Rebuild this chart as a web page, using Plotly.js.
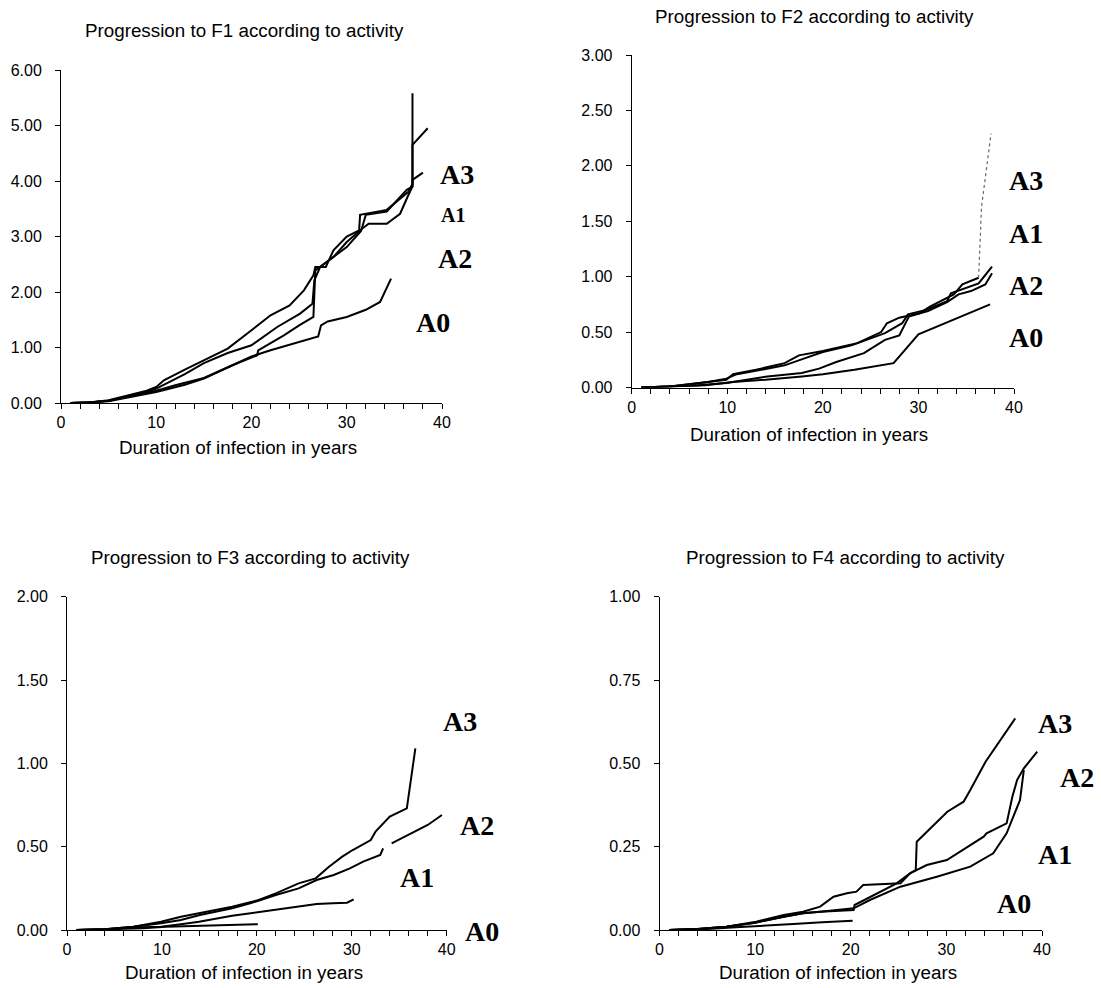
<!DOCTYPE html>
<html>
<head>
<meta charset="utf-8">
<script src="https://cdn.plot.ly/plotly-3.0.1.min.js"></script>
<style>html,body{margin:0;padding:0;background:#fff;}#chart{width:1101px;height:988px;}</style>
</head>
<body>
<div id="chart"></div>
<script>
// ---------- Data ----------
const seriesNames = ["A0", "A1", "A2", "A3"];
const xTickVals = [0, 10, 20, 30, 40];

// F1 panel
const f1_a3_x = [1, 3, 5, 7, 9, 10, 10.8, 13, 15, 17.5, 20, 22, 24, 25.5, 26.5, 26.7, 27.8, 28.6, 30, 31.3, 31.4, 34.2, 36.5, 36.9, 36.9];
const f1_a3_y = [0, 0.01, 0.05, 0.13, 0.22, 0.29, 0.41, 0.6, 0.77, 0.98, 1.31, 1.58, 1.76, 2.03, 2.3, 2.45, 2.45, 2.75, 3.0, 3.11, 3.39, 3.48, 3.81, 3.95, 5.58];
const f1_a1_x = [1, 3, 5, 7, 9, 10, 11, 13, 15, 17.5, 20, 22.7, 25.1, 26.4, 26.6, 27.2, 28.6, 30, 31.6, 32.3, 34.2, 35.6, 36.4, 36.9, 36.9, 38.5];
const f1_a1_y = [0, 0.01, 0.04, 0.12, 0.2, 0.26, 0.35, 0.52, 0.72, 0.9, 1.04, 1.37, 1.61, 1.79, 2.21, 2.45, 2.63, 2.9, 3.14, 3.23, 3.23, 3.41, 3.72, 3.9, 4.65, 4.95];
const f1_a2_x = [1, 3, 5, 7, 9, 10, 12, 15, 18, 20.6, 20.7, 23.4, 25, 26.5, 26.7, 28.1, 30, 31.5, 32, 34.2, 36.3, 36.9, 36.9, 38];
const f1_a2_y = [0, 0.01, 0.04, 0.11, 0.19, 0.22, 0.32, 0.45, 0.68, 0.86, 0.95, 1.22, 1.4, 1.55, 2.39, 2.57, 2.81, 3.1, 3.39, 3.45, 3.84, 3.9, 4.02, 4.15];
const f1_a0_x = [1, 3, 5, 7, 10, 13, 15, 18, 20, 22, 24, 26, 27, 27.3, 28, 30, 32, 33.5, 34.65];
const f1_a0_y = [0, 0.01, 0.03, 0.1, 0.2, 0.33, 0.44, 0.68, 0.84, 0.95, 1.05, 1.15, 1.2, 1.4, 1.47, 1.55, 1.68, 1.82, 2.24];

// F2 panel
const f2_a3_x = [1, 4, 6, 8, 9.9, 10.6, 13, 16, 17.5, 20, 23.6, 26.1, 26.7, 28, 30.1, 31.2, 33.7, 34.6, 36.3, 36.6, 37.6];
const f2_a3_y = [0, 0.01, 0.03, 0.05, 0.07, 0.12, 0.16, 0.22, 0.29, 0.33, 0.4, 0.5, 0.58, 0.63, 0.67, 0.73, 0.84, 0.93, 0.99, 1.63, 2.29];
const f2_a1_x = [1, 4, 6, 8, 9.9, 11, 13, 16, 18, 20, 23, 26.5, 28.3, 28.9, 30.8, 33, 33.4, 36.3, 37.7];
const f2_a1_y = [0, 0.01, 0.03, 0.05, 0.08, 0.12, 0.15, 0.2, 0.26, 0.32, 0.38, 0.49, 0.58, 0.66, 0.7, 0.78, 0.85, 0.94, 1.09];
const f2_a2_x = [1, 4, 7, 9.9, 12, 14.2, 17.8, 19.6, 21.4, 24.3, 26.5, 28, 29, 31, 33, 34.2, 35.5, 37, 37.7];
const f2_a2_y = [0, 0.01, 0.02, 0.04, 0.07, 0.1, 0.13, 0.17, 0.23, 0.31, 0.43, 0.47, 0.64, 0.69, 0.77, 0.84, 0.87, 0.93, 1.03];
const f2_a0_x = [1, 4, 7.7, 10.6, 14, 17.8, 20, 23.3, 27.4, 28.1, 30, 37.5];
const f2_a0_y = [0, 0.01, 0.02, 0.05, 0.07, 0.1, 0.12, 0.16, 0.22, 0.29, 0.48, 0.75];

// F3 panel
const f3_a3_x = [1, 4, 7, 9.9, 12, 13.9, 17.4, 20.2, 22, 24.4, 26.2, 27.6, 29, 30.1, 32, 32.5, 34, 35.8, 36.1, 36.7];
const f3_a3_y = [0, 0.005, 0.02, 0.05, 0.08, 0.1, 0.14, 0.18, 0.22, 0.28, 0.31, 0.38, 0.44, 0.48, 0.54, 0.59, 0.68, 0.73, 0.86, 1.09];
const f3_a2_x = [1, 4, 7, 9.9, 12, 14, 17.4, 19.3, 22, 24.4, 26.3, 28.1, 29.8, 31.2, 33, 33.3, null, 34.2, 36, 38, 39.5];
const f3_a2_y = [0, 0.005, 0.02, 0.04, 0.06, 0.09, 0.13, 0.16, 0.21, 0.25, 0.3, 0.33, 0.37, 0.41, 0.45, 0.49, null, 0.52, 0.57, 0.63, 0.69];
const f3_a1_x = [1, 4, 7, 9.9, 12, 13.9, 17.4, 19.3, 22.8, 24.4, 26.3, 28, 29.5, 30.2];
const f3_a1_y = [0, 0.005, 0.015, 0.02, 0.035, 0.05, 0.085, 0.1, 0.13, 0.14, 0.156, 0.16, 0.164, 0.184];
const f3_a0_x = [1, 5, 8, 10.4, 14, 17, 20.1];
const f3_a0_y = [0, 0.005, 0.01, 0.02, 0.025, 0.03, 0.035];

// F4 panel
const f4_a3_x = [1, 4, 7, 10.1, 13, 15, 16.8, 18.2, 19.6, 20.6, 21.3, 24.8, 25.2, 26.2, 26.8, 26.9, 28, 29.4, 30.1, 31.8, 32.5, 34.1, 37.2];
const f4_a3_y = [0, 0.003, 0.01, 0.025, 0.045, 0.055, 0.07, 0.1, 0.11, 0.115, 0.135, 0.14, 0.14, 0.17, 0.18, 0.265, 0.295, 0.335, 0.355, 0.385, 0.42, 0.505, 0.635];
const f4_a2_x = [1, 4, 7, 10, 13, 15, 16.8, 20.3, 20.4, 23.4, 24.8, 26.2, 27.95, 30.05, 33.9, 34.2, 36.3, 36.9, 37.4, 38.1, 39.5];
const f4_a2_y = [0, 0.003, 0.01, 0.022, 0.04, 0.05, 0.055, 0.06, 0.075, 0.12, 0.14, 0.17, 0.195, 0.21, 0.28, 0.29, 0.32, 0.40, 0.45, 0.485, 0.535];
const f4_a1_x = [1, 4, 7, 10, 13, 15, 16.8, 20.3, 22, 25.2, 29, 32.5, 34.9, 36.3, 37, 37.7, 38.1];
const f4_a1_y = [0, 0.003, 0.01, 0.022, 0.04, 0.05, 0.055, 0.065, 0.09, 0.13, 0.16, 0.19, 0.23, 0.29, 0.34, 0.39, 0.48];
const f4_a0_x = [1, 5, 8, 10, 14, 17, 20.2];
const f4_a0_y = [0, 0.003, 0.008, 0.012, 0.018, 0.023, 0.028];

const panelTitles = [
  "Progression to F1 according to activity",
  "Progression to F2 according to activity",
  "Progression to F3 according to activity",
  "Progression to F4 according to activity"
];
const xAxisTitle = "Duration of infection in years";
const yMax = [6, 3, 2, 1];
const yStep = [1, 0.5, 0.5, 0.25];

// ---------- Layout geometry (pixels) ----------
const W = 1101, H = 988;
const px = v => v / W;
const py = v => 1 - v / H;

const panels = [
  {x0: 61,    x1: 442,  yTop: 70,    yBot: 403,   title: [244.5, 30],  xt: [237.5, 447],
   labels: [["A3", 457, 174, 28], ["A1", 453, 215, 20], ["A2", 455, 258, 28], ["A0", 433, 323, 28]]},
  {x0: 631.7, x1: 1014, yTop: 55,    yBot: 387.5, title: [814.5, 17],  xt: [809, 434],
   labels: [["A3", 1026, 181, 28], ["A1", 1026, 233, 28], ["A2", 1026, 285, 28], ["A0", 1026, 337, 28]]},
  {x0: 67,    x1: 446.7, yTop: 596.7, yBot: 930,  title: [250.5, 557], xt: [243.5, 972],
   labels: [["A3", 460, 721, 28], ["A2", 477, 825, 28], ["A1", 417, 877, 28], ["A0", 482, 931, 28]]},
  {x0: 659.5, x1: 1042, yTop: 596.7, yBot: 930,  title: [845.5, 557], xt: [838, 972],
   labels: [["A3", 1055, 723, 28], ["A2", 1077, 777, 28], ["A1", 1055, 854, 28], ["A0", 1014, 903, 28]]}
];

const panelData = [
  {A0: [f1_a0_x, f1_a0_y], A1: [f1_a1_x, f1_a1_y], A2: [f1_a2_x, f1_a2_y], A3: [f1_a3_x, f1_a3_y]},
  {A0: [f2_a0_x, f2_a0_y], A1: [f2_a1_x, f2_a1_y], A2: [f2_a2_x, f2_a2_y], A3: [f2_a3_x, f2_a3_y]},
  {A0: [f3_a0_x, f3_a0_y], A1: [f3_a1_x, f3_a1_y], A2: [f3_a2_x, f3_a2_y], A3: [f3_a3_x, f3_a3_y]},
  {A0: [f4_a0_x, f4_a0_y], A1: [f4_a1_x, f4_a1_y], A2: [f4_a2_x, f4_a2_y], A3: [f4_a3_x, f4_a3_y]}
];

const traces = [];
const layout = {
  width: W, height: H,
  margin: {l: 0, r: 0, t: 0, b: 0},
  paper_bgcolor: "#fff", plot_bgcolor: "#fff",
  showlegend: false,
  annotations: []
};

const sans = "Liberation Sans, Arial, Helvetica, sans-serif";
const serif = "Liberation Serif, Times New Roman, serif";

panels.forEach((p, i) => {
  const n = i === 0 ? "" : String(i + 1);
  const xa = "xaxis" + n, ya = "yaxis" + n;
  const xr = "x" + n, yr = "y" + n;

  layout[xa] = {
    domain: [px(p.x0), px(p.x1)], anchor: yr, range: [0, 40],
    tickmode: "array", tickvals: xTickVals,
    showline: true, linecolor: "#000", linewidth: 1,
    ticks: "outside", ticklen: 5, tickwidth: 1, tickcolor: "#000",
    minor: {dtick: 2, tick0: 0, ticks: "outside", ticklen: 5, tickwidth: 1, tickcolor: "#000", showgrid: false},
    showgrid: false, zeroline: false,
    tickfont: {family: sans, size: 16, color: "#000"}
  };
  layout[ya] = {
    domain: [py(p.yBot), py(p.yTop)], anchor: xr, range: [0, yMax[i]],
    dtick: yStep[i], tick0: 0, tickformat: ".2f",
    showline: true, linecolor: "#000", linewidth: 1,
    ticks: "outside", ticklen: 5, tickwidth: 1, tickcolor: "#000",
    ticklabelstandoff: 10,
    showgrid: false, zeroline: false,
    tickfont: {family: sans, size: 16, color: "#000"}
  };

  seriesNames.forEach(s => {
    const [xs, ys] = panelData[i][s];
    if (i === 1 && s === "A3") {
      traces.push({x: xs.slice(0, xs.length - 2), y: ys.slice(0, ys.length - 2), xaxis: xr, yaxis: yr,
        mode: "lines", name: s, line: {color: "#000", width: 2}, hoverinfo: "x+y+name"});
      traces.push({x: xs.slice(xs.length - 3), y: ys.slice(ys.length - 3), xaxis: xr, yaxis: yr,
        mode: "lines", name: s, line: {color: "#666", width: 1.2, dash: "dot"}, hoverinfo: "x+y+name"});
    } else {
      traces.push({x: xs, y: ys, xaxis: xr, yaxis: yr, mode: "lines", name: s,
        connectgaps: false, line: {color: "#000", width: 2}, hoverinfo: "x+y+name"});
    }
  });

  layout.annotations.push({
    text: panelTitles[i], xref: "paper", yref: "paper",
    x: px(p.title[0]), y: py(p.title[1]), xanchor: "center", yanchor: "middle",
    showarrow: false, font: {family: sans, size: 18.8, color: "#000"}
  });
  layout.annotations.push({
    text: xAxisTitle, xref: "paper", yref: "paper",
    x: px(p.xt[0]), y: py(p.xt[1]), xanchor: "center", yanchor: "middle",
    showarrow: false, font: {family: sans, size: 18.8, color: "#000"}
  });
  p.labels.forEach(([t, lx, ly, fs]) => {
    layout.annotations.push({
      text: "<b>" + t + "</b>", xref: "paper", yref: "paper",
      x: px(lx), y: py(ly), xanchor: "center", yanchor: "middle",
      showarrow: false, font: {family: serif, size: fs, color: "#000"}
    });
  });
});

Plotly.newPlot("chart", traces, layout, {staticPlot: true, displayModeBar: false});
</script>
</body>
</html>
